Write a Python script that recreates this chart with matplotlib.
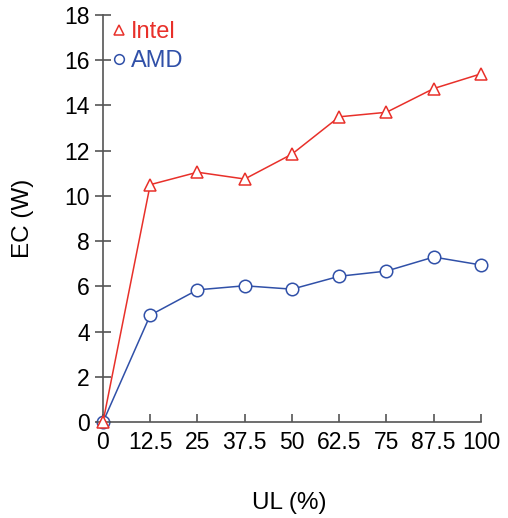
import matplotlib
matplotlib.use("Agg")
import matplotlib.pyplot as plt

plt.rcParams['font.family'] = ['Liberation Sans', 'DejaVu Sans']

ul = [0, 12.5, 25, 37.5, 50, 62.5, 75, 87.5, 100]
xtick_labels = ['0', '12.5', '25', '37.5', '50', '62.5', '75', '87.5', '100']
intel = [0, 10.5, 11.05, 10.75, 11.85, 13.5, 13.7, 14.75, 15.4]
amd = [0, 4.73, 5.85, 6.03, 5.88, 6.45, 6.68, 7.3, 6.95]

red = '#E8302A'
blue = '#3050A8'
gray = '#555555'

fig = plt.figure(figsize=(5.08, 5.18), dpi=100)
ax = fig.add_axes([0.1915, 0.185, 0.7553, 0.786])

ax.plot(ul, intel, color=red, lw=1.1, marker='^', ms=8, mfc='white', mec=red, mew=1.1,
        label='Intel', clip_on=False, zorder=3)
ax.plot(ul, amd, color=blue, lw=1.1, marker='o', ms=9, mfc='white', mec=blue, mew=1.1,
        label='AMD', clip_on=False, zorder=2)

ax.set_xlim(-1.5, 100)
ax.set_ylim(0, 18)
ax.set_xticks(ul)
ax.set_xticklabels(xtick_labels)
ax.set_yticks(range(0, 19, 2))
ax.spines['left'].set_position(('data', 0))
for s in ['top', 'right']:
    ax.spines[s].set_visible(False)
for s in ['left', 'bottom']:
    ax.spines[s].set_color(gray)
    ax.spines[s].set_linewidth(1.2)
ax.tick_params(axis='y', direction='inout', length=11, width=1.2, color=gray, labelsize=16.5, pad=4)
ax.tick_params(axis='x', direction='in', length=6, width=1.2, color=gray, labelsize=16.5, pad=6)

ax.set_xlabel('UL (%)', fontsize=17.5, labelpad=28)
ax.set_ylabel('EC (W)', fontsize=17.5, labelpad=22)

leg = ax.legend(loc='upper left', bbox_to_anchor=(0.02, 1.02), frameon=False, fontsize=17,
                handlelength=0, handletextpad=0.5, borderaxespad=0.2, labelspacing=0.3)
for txt, c in zip(leg.get_texts(), [red, blue]):
    txt.set_color(c)
for h in leg.legend_handles:
    h.set_markersize(7)

fig.savefig('out.png', dpi=100)
